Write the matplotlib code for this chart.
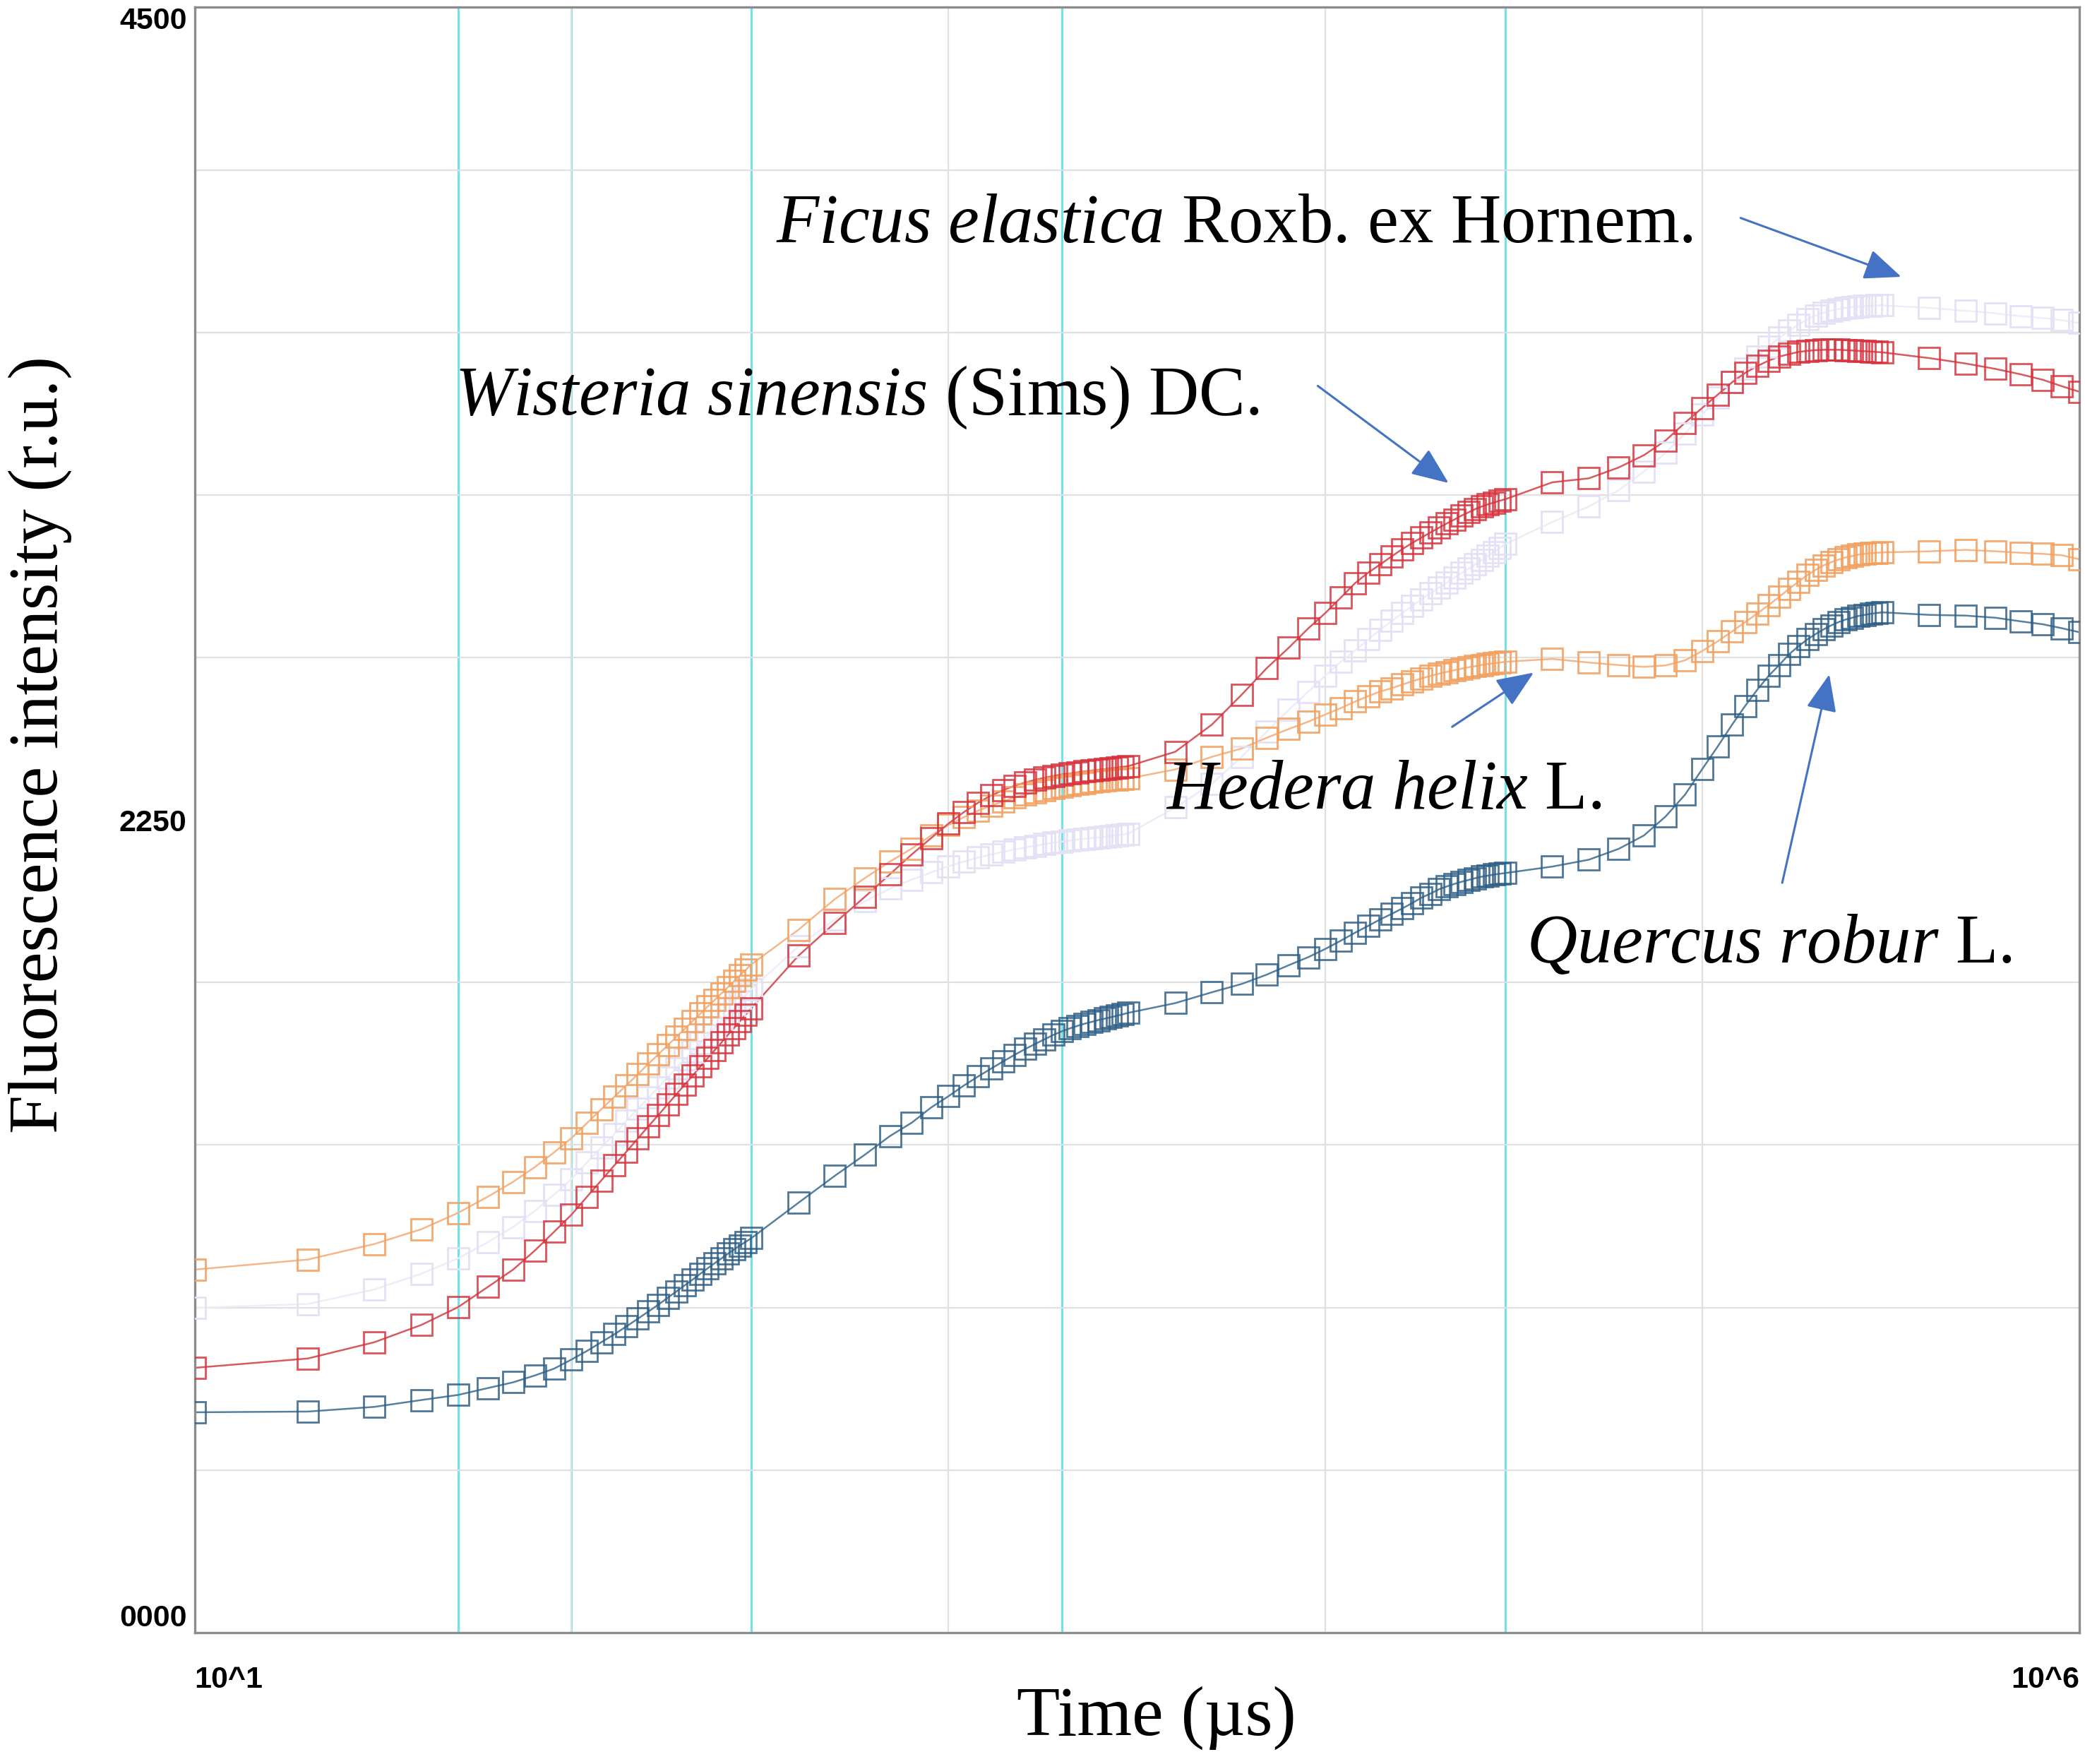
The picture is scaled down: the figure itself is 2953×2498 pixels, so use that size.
import matplotlib
matplotlib.use("Agg")
from matplotlib import pyplot as plt
from matplotlib.ticker import FixedLocator, MultipleLocator, NullFormatter

plt.rcParams['font.family'] = ['Liberation Serif', 'DejaVu Serif']
plt.rcParams['mathtext.fontset'] = 'custom'
plt.rcParams['mathtext.it'] = 'Liberation Serif:italic'
plt.rcParams['mathtext.rm'] = 'Liberation Serif'

# sampling times of the instrument (µs)
time_us = (list(range(10, 301, 10)) + list(range(400, 3001, 100))
           + list(range(4000, 30001, 1000)) + list(range(40000, 300001, 10000))
           + list(range(400000, 1000001, 100000)))

# fluorescence values (r.u.)
ficus = [899, 910, 950, 994, 1036, 1081, 1123, 1168, 1213, 1256, 1302, 1343, 1381, 1417, 1450,
         1481, 1510, 1537, 1563, 1587, 1610, 1633, 1654, 1674, 1694, 1712, 1730, 1748, 1765, 1781,
         1900, 1975, 2025, 2060, 2085, 2105, 2122, 2135, 2146, 2155, 2162, 2168, 2174, 2179,
         2183, 2187, 2190, 2193, 2196, 2198, 2200, 2202, 2204, 2206, 2208, 2210, 2212,
         2285, 2350, 2425, 2495, 2555, 2605, 2650, 2688, 2720, 2750, 2777, 2801, 2823, 2843,
         2861, 2878, 2893, 2907, 2921, 2934, 2946, 2958, 2970, 2981, 2992, 3003, 3014,
         3075, 3118, 3163, 3215, 3267, 3320, 3372, 3420, 3462, 3500, 3533, 3561, 3585, 3605,
         3622, 3636, 3647, 3655, 3661, 3665, 3668, 3670, 3672, 3673, 3674, 3675, 3675,
         3668, 3660, 3653, 3645, 3640, 3634, 3626]

wisteria = [733, 759, 804, 852, 901, 957, 1005, 1058, 1110, 1157, 1207, 1252, 1294, 1332, 1368,
            1402, 1433, 1463, 1491, 1518, 1543, 1568, 1591, 1613, 1634, 1655, 1674, 1693, 1711, 1729,
            1874, 1965, 2037, 2100, 2155, 2200, 2240, 2272, 2298, 2318, 2333, 2345, 2354, 2361,
            2367, 2372, 2376, 2379, 2382, 2385, 2387, 2389, 2391, 2393, 2395, 2397, 2399,
            2439, 2514, 2597, 2671, 2727, 2780, 2823, 2866, 2906, 2935, 2958, 2980, 3000, 3017,
            3032, 3046, 3059, 3071, 3082, 3093, 3102, 3111, 3118, 3124, 3129, 3134, 3138,
            3185, 3196, 3226, 3260, 3301, 3350, 3391, 3428, 3462, 3488, 3507, 3522, 3533, 3540,
            3546, 3549, 3551, 3552, 3552, 3552, 3551, 3550, 3549, 3548, 3547, 3546, 3545,
            3529, 3514, 3499, 3484, 3469, 3451, 3436]

hedera = [1005, 1033, 1076, 1117, 1162, 1207, 1248, 1289, 1330, 1369, 1411, 1449, 1484, 1516, 1546,
          1575, 1601, 1626, 1650, 1672, 1694, 1714, 1734, 1752, 1770, 1787, 1804, 1820, 1835, 1850,
          1946, 2031, 2089, 2135, 2171, 2207, 2236, 2258, 2276, 2290, 2302, 2312, 2320, 2327,
          2333, 2338, 2343, 2347, 2350, 2353, 2355, 2357, 2359, 2361, 2362, 2363, 2365,
          2390, 2425, 2448, 2478, 2502, 2522, 2542, 2560, 2578, 2593, 2606, 2615, 2625, 2634,
          2642, 2649, 2655, 2660, 2665, 2669, 2673, 2676, 2679, 2682, 2684, 2686, 2688,
          2696, 2686, 2679, 2674, 2678, 2692, 2718, 2745, 2772, 2798, 2822, 2845, 2868, 2890,
          2910, 2928, 2943, 2955, 2964, 2971, 2977, 2981, 2985, 2987, 2989, 2990, 2991,
          2994, 2998, 2994, 2990, 2987, 2983, 2972]

quercus = [610, 612, 625, 644, 658, 677, 693, 712, 731, 756, 780, 804, 826, 848, 869,
           889, 908, 927, 945, 962, 978, 994, 1009, 1023, 1036, 1049, 1061, 1072, 1082, 1092,
           1190, 1265, 1323, 1375, 1412, 1454, 1485, 1515, 1540, 1562, 1582, 1600, 1616, 1630,
           1643, 1655, 1665, 1673, 1680, 1686, 1691, 1696, 1700, 1704, 1708, 1712, 1716,
           1743, 1773, 1796, 1822, 1848, 1870, 1893, 1916, 1938, 1957, 1975, 1990, 2005, 2020,
           2035, 2046, 2058, 2066, 2073, 2079, 2084, 2089, 2093, 2096, 2099, 2101, 2103,
           2121, 2140, 2170, 2207, 2260, 2320, 2391, 2454, 2514, 2566, 2611, 2649, 2679, 2709,
           2731, 2750, 2765, 2778, 2789, 2798, 2805, 2810, 2815, 2818, 2821, 2823, 2825,
           2818, 2816, 2810, 2800, 2792, 2781, 2770]

# characteristic OJIP times marked with cyan lines (µs)
marker_times = [50, 100, 300, 2000, 30000]

fig = plt.figure(figsize=(29.53, 24.98), dpi=100)
ax = fig.add_axes([0.0933, 0.0745, 0.9039, 0.9213])

ax.set_xscale('log')
ax.set_xlim(10, 1e6)
ax.set_ylim(0, 4500)

# grid
ax.xaxis.set_minor_locator(FixedLocator([1e2, 1e3, 1e4, 1e5]))
ax.xaxis.set_minor_formatter(NullFormatter())
ax.yaxis.set_minor_locator(MultipleLocator(450))
ax.grid(True, which='minor', color='#e0e0e0', linewidth=1.6, zorder=0)
ax.grid(False, which='major')

for t in marker_times:
    ax.axvline(t, color='#70e2ea', linewidth=2.2, zorder=1)

series = [
    (ficus, '#e4e1f5', '#eeecf9', 1.0),
    (hedera, '#f2a160', '#f5b68a', 0.9),
    (wisteria, '#d8323c', '#d85a60', 0.85),
    (quercus, '#2f5f86', '#56809e', 0.85),
]
for vals, mcol, lcol, a in series:
    ax.plot(time_us, vals, color=lcol, linewidth=1.8, zorder=2)
    ax.plot(time_us, vals, linestyle='none', marker='s', markersize=21,
            markerfacecolor='none', markeredgecolor=mcol, markeredgewidth=2.0,
            alpha=a, zorder=3)

# ticks
ax.set_xticks([10, 1e6])
ax.set_xticklabels(['10^1', '10^6'])
ax.set_yticks([0, 2250, 4500])
ax.set_yticklabels(['0000', '2250', '4500'])
ax.tick_params(which='both', length=0)
ax.tick_params(axis='x', pad=34)
ax.tick_params(axis='y', pad=8)
for lab in ax.get_xticklabels() + ax.get_yticklabels():
    lab.set_fontfamily('Liberation Sans')
    lab.set_fontweight('bold')
    lab.set_fontsize(31)
xl = ax.get_xticklabels()
xl[0].set_ha('left')
xl[-1].set_ha('right')
yl = ax.get_yticklabels()
yl[0].set_va('bottom')
yl[-1].set_va('top')

for s in ax.spines.values():
    s.set_color('#8c8c8c')
    s.set_linewidth(2.4)

# axis titles
fig.text(0.0193, 0.5777, 'Fluorescence intensity (r.u.)', rotation=90,
         ha='center', va='center', fontsize=71)
fig.text(0.5548, 0.026, 'Time (µs)', ha='center', va='center', fontsize=72)

# species labels
W, H = 2953, 2498
labels = [
    (r'$\it{Ficus\ elastica}$ Roxb. ex Hornem.', 1099, 343),
    (r'$\it{Wisteria\ sinensis}$ (Sims) DC.', 644, 587),
    (r'$\it{Hedera\ helix}$ L.', 1651, 1145),
    (r'$\it{Quercus\ robur}$ L.', 2162, 1363),
]
for txt, px, py in labels:
    fig.text(px / W, 1 - py / H, txt, ha='left', va='baseline', fontsize=71)

arrows = [
    ((337300, 3754), (126400, 3917)),
    ((21230, 3183), (9550, 3452)),
    ((35700, 2658), (21700, 2508)),
    ((217300, 2653), (163000, 2076)),
]
for head, tail in arrows:
    ax.annotate('', xy=head, xytext=tail,
                arrowprops=dict(arrowstyle='-|>,head_length=0.65,head_width=0.27',
                                mutation_scale=50, color='#4472c4', lw=2.2,
                                shrinkA=0, shrinkB=0))

fig.savefig('out.png', dpi=100)
